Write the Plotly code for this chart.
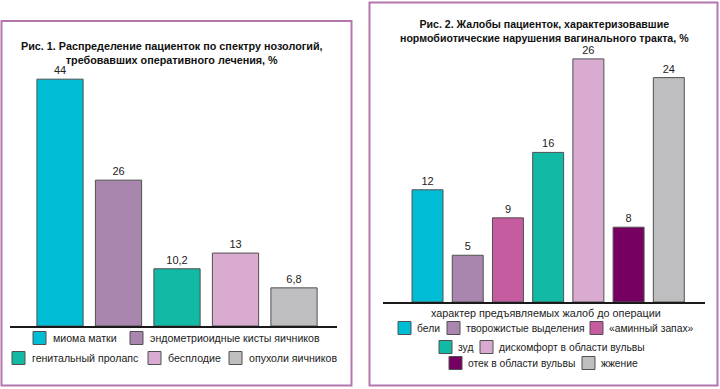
import plotly.graph_objects as go

# ---- data ----
cats1 = ["миома матки", "эндометриоидные кисты яичников", "генитальный пролапс",
         "бесплодие", "опухоли яичников"]
vals1 = [44, 26, 10.2, 13, 6.8]
colors1 = ["#00bdd6", "#a886ae", "#12b9a4", "#d9abd0", "#bebec0"]

cats2 = ["бели", "творожистые выделения", "«аминный запах»", "зуд",
         "дискомфорт в области вульвы", "отек в области вульвы", "жжение"]
vals2 = [12, 5, 9, 16, 26, 8, 24]
colors2 = ["#00bdd6", "#a886ae", "#c65ca0", "#12b9a4", "#d9abd0", "#760061", "#bebec0"]

title1 = "<b>Рис. 1. Распределение пациенток по спектру нозологий,<br>требовавших оперативного лечения, %</b>"
title2 = "<b>Рис. 2. Жалобы пациенток, характеризовавшие<br>нормобиотические нарушения вагинального тракта, %</b>"
xtitle2 = "характер предъявляемых жалоб до операции"

W, H = 720, 389
FONT = "Liberation Sans"
BORDER = "#b377b0"
OUTLINE = "#505050"

# legend layout: (category index, square left x, row centre y) in pixels
legend1_layout = [(0, 33, 338), (1, 130, 338), (2, 12, 358), (3, 148, 358), (4, 229, 358)]
legend2_layout = [(0, 398, 328), (1, 447, 328), (2, 590, 328), (3, 439, 347), (4, 480, 347),
                  (5, 449, 363), (6, 582, 363)]


def px(x):
    return x / W


def py(y):
    return 1 - y / H


fig = go.Figure()
fig.add_trace(go.Bar(x=cats1, y=vals1, marker=dict(color=colors1, line=dict(color=OUTLINE, width=1)),
                     texttemplate="%{y}", textposition="outside", cliponaxis=False,
                     textfont=dict(size=11, color="#222"), width=0.79,
                     xaxis="x", yaxis="y", showlegend=False))
fig.add_trace(go.Bar(x=cats2, y=vals2, marker=dict(color=colors2, line=dict(color=OUTLINE, width=1)),
                     texttemplate="%{y}", textposition="outside", cliponaxis=False,
                     textfont=dict(size=11, color="#222"), width=0.77,
                     xaxis="x2", yaxis="y2", showlegend=False))

axis_common = dict(showgrid=False, zeroline=False, showticklabels=False, ticks="", fixedrange=True)
fig.update_layout(
    width=W, height=H, margin=dict(l=0, r=0, t=0, b=0),
    paper_bgcolor="white", plot_bgcolor="white",
    font=dict(family=FONT, size=11, color="#222"),
    separators=", ",
    xaxis=dict(domain=[px(10), px(337)], range=[-0.855, 4.735], anchor="y",
               showline=True, linecolor="#1a1a1a", linewidth=1.8, **axis_common),
    yaxis=dict(domain=[py(326), py(45.5)], range=[0, 50], anchor="x", showline=False, **axis_common),
    xaxis2=dict(domain=[px(383), px(705)], range=[-1.107, 6.9], anchor="y2",
                showline=True, linecolor="#1a1a1a", linewidth=1.8, **axis_common),
    yaxis2=dict(domain=[py(302), py(40.2)], range=[0, 28], anchor="x2", showline=False, **axis_common),
)

shapes = [
    dict(type="rect", xref="paper", yref="paper", x0=px(1.5), x1=px(351.5), y0=py(385.5), y1=py(21),
         line=dict(color=BORDER, width=2)),
    dict(type="rect", xref="paper", yref="paper", x0=px(369.5), x1=px(717.5), y0=py(385.5), y1=py(2.5),
         line=dict(color=BORDER, width=2)),
]


def ann(text, x, y, size=11, color="#222", xanchor="center"):
    return dict(text=text, x=px(x), y=py(y), xref="paper", yref="paper", showarrow=False,
                xanchor=xanchor, yanchor="middle", align="center",
                font=dict(size=size, family=FONT, color=color))


annotations = [
    ann(title1, 172, 53, size=10.8, color="#111"),
    ann(title2, 544, 31.5, size=10.6, color="#111"),
    ann(xtitle2, 546, 313, size=10.8),
]


def add_legend(cats, colors, layout, offset, size):
    for i, x, y in layout:
        shapes.append(dict(type="rect", xref="paper", yref="paper",
                           x0=px(x), x1=px(x + 13), y0=py(y + 6.5), y1=py(y - 6.5),
                           fillcolor=colors[i], line=dict(color=OUTLINE, width=1)))
        annotations.append(ann(cats[i], x + offset, y, size=size, xanchor="left"))


add_legend(cats1, colors1, legend1_layout, 18, 10.6)
add_legend(cats2, colors2, legend2_layout, 17, 10.3)

fig.update_layout(shapes=shapes, annotations=annotations)
fig.write_html("out.html", config={"displayModeBar": False},
               post_script="document.body.style.margin='0';")
